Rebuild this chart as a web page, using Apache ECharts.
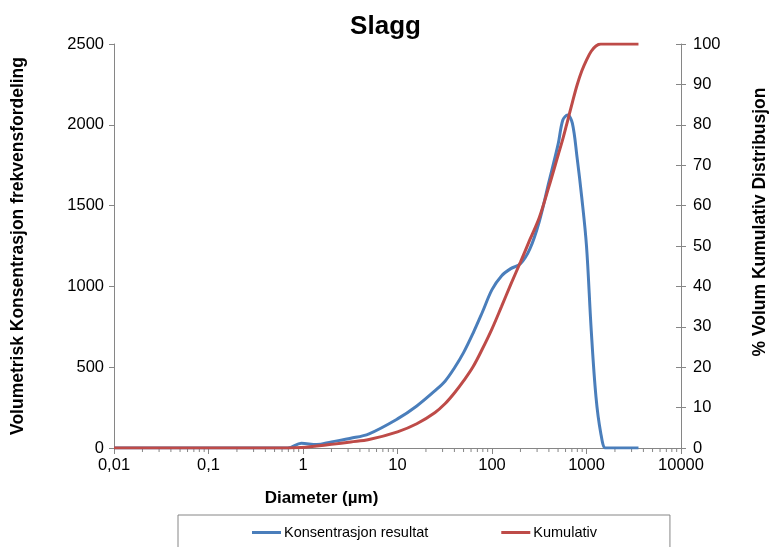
<!DOCTYPE html>
<html>
<head>
<meta charset="utf-8">
<script src="https://cdn.jsdelivr.net/npm/echarts@6/dist/echarts.min.js"></script>
<style>
  html, body { margin: 0; padding: 0; background: #fff; }
  #chart { width: 771px; height: 547px; }
</style>
</head>
<body>
<div id="chart"></div>
<script>
// diameter (µm) of each sample point
var diameters = [0.01, 0.69, 0.96, 1.4, 2, 3.2, 5, 10, 16, 25, 32, 40, 50, 63, 79, 100, 126, 158, 200, 251, 316, 398, 501, 562, 631, 708, 794, 891, 1000, 1122, 1259, 1413, 1585, 1778, 3548];
// volumetric concentration (left axis)
var konsentrasjon = [0, 0, 29, 21, 38, 60, 88, 180, 260, 355, 415, 495, 590, 710, 840, 980, 1065, 1110, 1140, 1230, 1400, 1640, 1880, 2030, 2060, 2010, 1800, 1550, 1250, 730, 318, 95, 0, 0, 0];
// cumulative % (right axis)
var kumulativ = [0, 0, 0.1, 0.5, 0.9, 1.5, 2.1, 4.0, 6.0, 8.8, 11, 13.6, 16.6, 20.1, 24.5, 29.5, 35, 40.5, 46, 51.5, 57, 64.5, 72.5, 76.5, 81, 85.5, 89.8, 93.3, 96, 98.2, 99.5, 100, 100, 100, 100];

var leftTicks = [0, 500, 1000, 1500, 2000, 2500];
var rightTicks = [0, 10, 20, 30, 40, 50, 60, 70, 80, 90, 100];

var axisGrey = '#868686';
var font = '"Liberation Sans", Arial, sans-serif';

var chart = echarts.init(document.getElementById('chart'));

function pairs(ys) {
  return diameters.map(function (d, i) { return [d, ys[i]]; });
}

var option = {
  animation: false,
  textStyle: { fontFamily: font },
  title: {
    text: 'Slagg',
    left: 'center',
    top: 9,
    textStyle: { fontSize: 26, fontWeight: 'bold', color: '#000', fontFamily: font }
  },
  grid: { left: 114, right: 90, top: 44, bottom: 99, outerBoundsMode: 'none' },
  legend: {
    left: 178,
    top: 515,
    padding: [10, 73, 30, 74],
    itemGap: 73,
    itemWidth: 29,
    itemHeight: 3,
    icon: 'rect',
    borderColor: axisGrey,
    borderWidth: 1,
    textStyle: { fontSize: 14.5, color: '#000', fontFamily: font, padding: [0, 0, 0, -2] },
    data: ['Konsentrasjon resultat', 'Kumulativ']
  },
  xAxis: {
    type: 'log',
    logBase: 10,
    min: 0.01,
    max: 10000,
    interval: 1,
    name: 'Diameter (µm)',
    nameLocation: 'middle',
    nameGap: 42,
    nameTextStyle: { fontSize: 17, fontWeight: 'bold', color: '#000', padding: [0, 152, 0, 0] },
    axisLine: { lineStyle: { color: axisGrey } },
    axisTick: { length: 6, lineStyle: { color: axisGrey } },
    splitLine: { show: false },
    axisLabel: {
      fontSize: 16.5,
      color: '#000',
      margin: 9,
      formatter: function (v) { return String(+(+v).toPrecision(6)).replace('.', ','); }
    }
  },
  yAxis: [
    {
      type: 'value',
      min: leftTicks[0],
      max: leftTicks[leftTicks.length - 1],
      interval: 500,
      name: 'Volumetrisk Konsentrasjon frekvensfordeling',
      nameLocation: 'middle',
      nameRotate: 90,
      nameGap: 87,
      nameTextStyle: { fontSize: 17.5, fontWeight: 'bold', color: '#000' },
      axisLine: { show: true, lineStyle: { color: axisGrey } },
      axisTick: { show: true, length: 5, lineStyle: { color: axisGrey } },
      splitLine: { show: false },
      axisLabel: { fontSize: 16.5, color: '#000', margin: 10, formatter: function (v) { return String(v); } }
    },
    {
      type: 'value',
      position: 'right',
      min: rightTicks[0],
      max: rightTicks[rightTicks.length - 1],
      interval: 10,
      name: '% Volum Kumulativ Distribusjon',
      nameLocation: 'middle',
      nameRotate: 90,
      nameGap: 70,
      nameTextStyle: { fontSize: 17.5, fontWeight: 'bold', color: '#000', padding: [0, 0, 0, 48] },
      axisLine: { show: true, lineStyle: { color: axisGrey } },
      axisTick: { show: true, length: 5, lineStyle: { color: axisGrey } },
      splitLine: { show: false },
      axisLabel: { fontSize: 16.5, color: '#000', margin: 12, formatter: function (v) { return String(v); } }
    },
    {
      // inner half of the crossing ticks on the right axis
      type: 'value',
      position: 'right',
      min: rightTicks[0],
      max: rightTicks[rightTicks.length - 1],
      interval: 10,
      axisLine: { show: false },
      axisTick: { show: true, inside: true, length: 5, lineStyle: { color: axisGrey } },
      splitLine: { show: false },
      axisLabel: { show: false }
    }
  ],
  series: [
    {
      name: 'Konsentrasjon resultat',
      type: 'line',
      yAxisIndex: 0,
      data: pairs(konsentrasjon),
      smooth: 0.35,
      showSymbol: false,
      symbol: 'none',
      lineStyle: { color: '#4A7EBB', width: 3 },
      itemStyle: { color: '#4A7EBB' },
      z: 3
    },
    {
      name: 'Kumulativ',
      type: 'line',
      yAxisIndex: 1,
      data: pairs(kumulativ),
      smooth: 0.35,
      showSymbol: false,
      symbol: 'none',
      lineStyle: { color: '#BE4B48', width: 3 },
      itemStyle: { color: '#BE4B48' },
      z: 4
    }
  ]
};
chart.setOption(option);

// minor ticks of the log axis at 2..9 x 10^k
var minor = [];
var y0 = chart.convertToPixel({ yAxisIndex: 0 }, 0);
for (var k = -2; k < 4; k++) {
  for (var m = 2; m <= 9; m++) {
    var px = chart.convertToPixel({ xAxisIndex: 0 }, m * Math.pow(10, k));
    minor.push({
      type: 'line',
      shape: { x1: px, y1: y0, x2: px, y2: y0 + 4 },
      style: { stroke: axisGrey, lineWidth: 1 },
      silent: true
    });
  }
}
chart.setOption({ graphic: minor });
</script>
</body>
</html>
